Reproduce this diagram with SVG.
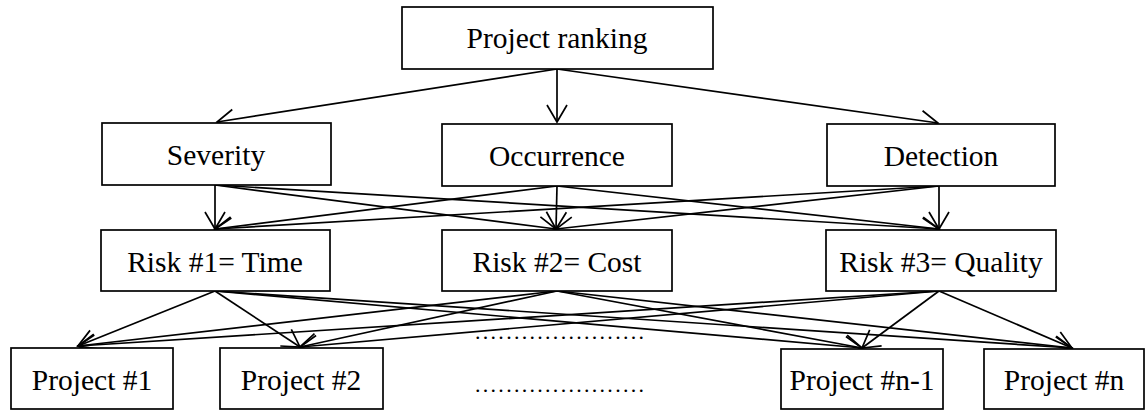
<svg xmlns="http://www.w3.org/2000/svg" width="1145" height="411" viewBox="0 0 1145 411">
<defs>
<style>
.box{fill:#fff;stroke:#000;stroke-width:1.7}
.lbl{font-family:"Liberation Serif","Times New Roman",serif;font-size:29.5px;fill:#000;text-anchor:middle}
.dots{font-family:"Liberation Serif","Times New Roman",serif;font-size:22px;fill:#000}
.edge{stroke:#000;stroke-width:1.7;fill:none;marker-end:url(#arr)}
</style>
<marker id="arr" markerUnits="userSpaceOnUse" viewBox="-22 -13 24 26" refX="0" refY="0" markerWidth="24" markerHeight="26" orient="auto">
<path d="M-17,-10 L0,0 L-17,10" fill="none" stroke="#000" stroke-width="1.7"/>
</marker>
</defs>
<rect width="1145" height="411" fill="#fff"/>
<g id="connectors">
<line class="edge" x1="557" y1="69" x2="217" y2="122"/>
<line class="edge" x1="557" y1="69" x2="557" y2="122"/>
<line class="edge" x1="557" y1="69" x2="938" y2="123"/>
<line class="edge" x1="215" y1="185" x2="215" y2="229"/>
<line class="edge" x1="215" y1="185" x2="556" y2="229"/>
<line class="edge" x1="215" y1="185" x2="939" y2="229"/>
<line class="edge" x1="557" y1="186" x2="215" y2="229"/>
<line class="edge" x1="557" y1="186" x2="556" y2="229"/>
<line class="edge" x1="557" y1="186" x2="939" y2="229"/>
<line class="edge" x1="939" y1="186" x2="215" y2="229"/>
<line class="edge" x1="939" y1="186" x2="556" y2="229"/>
<line class="edge" x1="939" y1="186" x2="939" y2="229"/>
<line class="edge" x1="215" y1="291" x2="78" y2="346"/>
<line class="edge" x1="215" y1="291" x2="300" y2="347"/>
<line class="edge" x1="215" y1="291" x2="862" y2="348"/>
<line class="edge" x1="215" y1="291" x2="1072" y2="348"/>
<line class="edge" x1="557" y1="291" x2="78" y2="346"/>
<line class="edge" x1="557" y1="291" x2="300" y2="347"/>
<line class="edge" x1="557" y1="291" x2="862" y2="348"/>
<line class="edge" x1="557" y1="291" x2="1072" y2="348"/>
<line class="edge" x1="939" y1="291" x2="78" y2="346"/>
<line class="edge" x1="939" y1="291" x2="300" y2="347"/>
<line class="edge" x1="939" y1="291" x2="862" y2="348"/>
<line class="edge" x1="939" y1="291" x2="1072" y2="348"/>
</g>
<g id="project-ranking"><rect class="box" x="402" y="7" width="311" height="62"/><text class="lbl" x="557" y="48">Project ranking</text></g>
<g id="severity"><rect class="box" x="102" y="123" width="229" height="62"/><text class="lbl" x="216" y="165">Severity</text></g>
<g id="occurrence"><rect class="box" x="442" y="124" width="230" height="62"/><text class="lbl" x="557" y="166">Occurrence</text></g>
<g id="detection"><rect class="box" x="827" y="124" width="228" height="62"/><text class="lbl" x="941" y="166">Detection</text></g>
<g id="risk1"><rect class="box" x="101" y="230" width="229" height="61"/><text class="lbl" x="215" y="272">Risk #1= Time</text></g>
<g id="risk2"><rect class="box" x="442" y="230" width="230" height="61"/><text class="lbl" x="557" y="272">Risk #2= Cost</text></g>
<g id="risk3"><rect class="box" x="826" y="230" width="230" height="61"/><text class="lbl" x="941" y="272">Risk #3= Quality</text></g>
<g id="project1"><rect class="box" x="11" y="348" width="162" height="61"/><text class="lbl" x="92" y="390">Project #1</text></g>
<g id="project2"><rect class="box" x="220" y="348" width="163" height="61"/><text class="lbl" x="301" y="390">Project #2</text></g>
<g id="project-n-1"><rect class="box" x="781" y="349" width="162" height="60"/><text class="lbl" x="862" y="390">Project #n-1</text></g>
<g id="project-n"><rect class="box" x="984" y="349" width="160" height="60"/><text class="lbl" x="1064" y="390">Project #n</text></g>
<g id="ellipsis">
<text class="dots" x="475" y="339" textLength="169" lengthAdjust="spacing">......................</text>
<text class="dots" x="475" y="392" textLength="169" lengthAdjust="spacing">......................</text>
</g>
</svg>
